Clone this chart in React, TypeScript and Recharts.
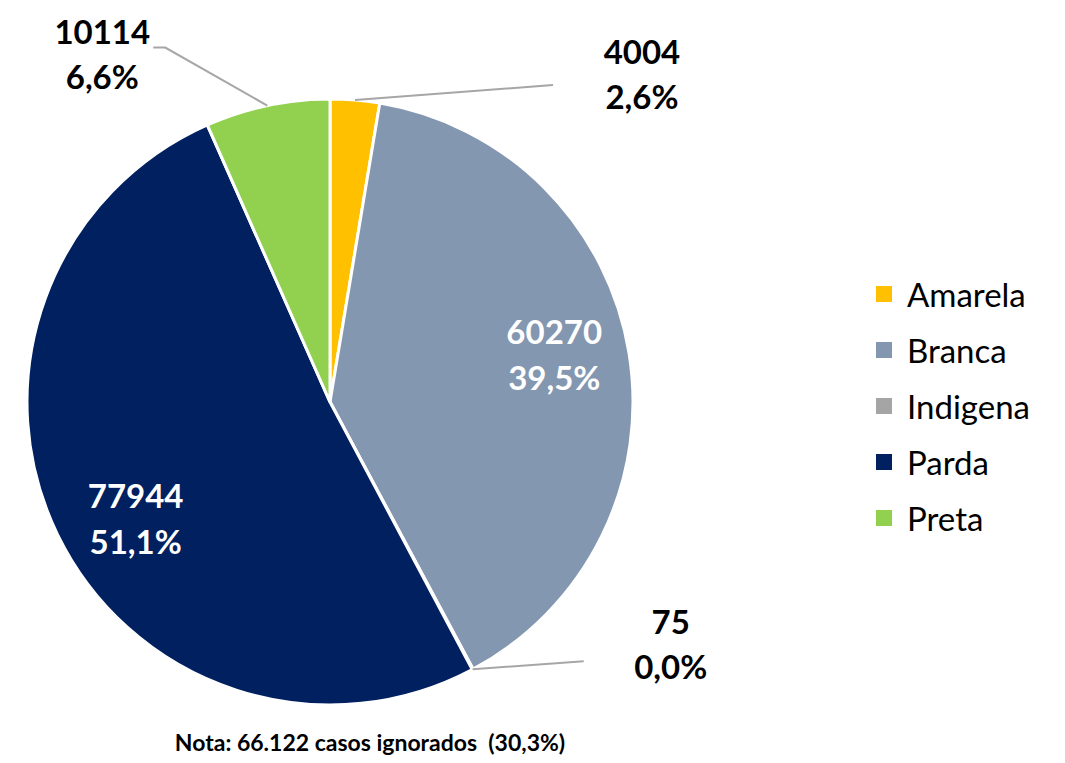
import { PieChart, Pie, Cell, Legend } from "recharts";

const categories = ["Amarela", "Branca", "Indigena", "Parda", "Preta"];
const counts = [4004, 60270, 75, 77944, 10114];
const colors = ["#FFC000", "#8497B0", "#A5A5A5", "#002060", "#92D050"];

const data = categories.map((name, i) => ({ name, value: counts[i] }));

const RAD = Math.PI / 180;
const FONT = "Lato, 'Open Sans', sans-serif";
const LEAD = "#A6A6A6";

// placement of each label relative to the point where the slice meets the rim
// inside: radial fraction; outside: leader line bends + text centre
const LABEL_CFG: Record<string, any> = {
  Amarela: { line: [[198, -15]], text: [287, -25] },
  Branca: { inside: 0.75, shift: [0, -10] },
  Indigena: { line: [[111, -8]], text: [198, -24] },
  Parda: { inside: 0.75, shift: [10, 18] },
  Preta: { line: [[-102, -58], [-114, -58]], text: [-165, -51] },
};

const fmtPct = (p: number) => (p * 100).toFixed(1).replace(".", ",") + "%";

function renderLabel(props: any) {
  const { cx, cy, midAngle, outerRadius, percent, value, name } = props;
  const cfg = LABEL_CFG[name];
  const cos = Math.cos(-midAngle * RAD);
  const sin = Math.sin(-midAngle * RAD);
  const style = { fontFamily: FONT, fontWeight: 700, fontSize: 33 };
  if (cfg.inside) {
    const x = cx + outerRadius * cfg.inside * cos + cfg.shift[0];
    const y = cy + outerRadius * cfg.inside * sin + cfg.shift[1];
    return (
      <text x={x} y={y} textAnchor="middle" fill="#fff" style={style}>
        <tspan x={x} dy={-11}>{value}</tspan>
        <tspan x={x} dy={46}>{fmtPct(percent)}</tspan>
      </text>
    );
  }
  const ex = cx + outerRadius * cos;
  const ey = cy + outerRadius * sin;
  const pts = [[ex, ey], ...cfg.line.map((p: number[]) => [ex + p[0], ey + p[1]])];
  const tx = ex + cfg.text[0];
  const ty = ey + cfg.text[1];
  return (
    <g>
      <polyline
        points={pts.map((p) => p.join(",")).join(" ")}
        fill="none"
        stroke={LEAD}
        strokeWidth={2}
      />
      <text x={tx} y={ty} textAnchor="middle" fill="#000" style={style}>
        <tspan x={tx} dy={-11}>{value}</tspan>
        <tspan x={tx} dy={45}>{fmtPct(percent)}</tspan>
      </text>
    </g>
  );
}

function LegendContent({ payload }: any) {
  return (
    <ul style={{ listStyle: "none", margin: 0, padding: 0 }}>
      {(payload || []).map((p: any) => (
        <li
          key={p.value}
          style={{
            display: "flex",
            alignItems: "center",
            height: 56,
            fontFamily: FONT,
            fontSize: 33,
            color: "#000",
          }}
        >
          <span
            style={{
              display: "inline-block",
              width: 16,
              height: 16,
              background: p.color,
              marginRight: 15,
            }}
          />
          {p.value}
        </li>
      ))}
    </ul>
  );
}

export default function App() {
  return (
    <div style={{ position: "relative", width: 1057, height: 755 }}>
      <PieChart width={1057} height={755} margin={{ top: 0, right: 0, bottom: 0, left: 0 }}>
        <Pie
          data={data}
          dataKey="value"
          nameKey="name"
          cx={322}
          cy={394}
          outerRadius={303}
          startAngle={90}
          endAngle={-270}
          stroke="#fff"
          strokeWidth={3}
          label={renderLabel}
          labelLine={false}
          isAnimationActive={false}
        >
          {data.map((d, i) => (
            <Cell key={d.name} fill={colors[i]} />
          ))}
        </Pie>
        <Legend
          layout="vertical"
          align="right"
          verticalAlign="middle"
          content={<LegendContent />}
          wrapperStyle={{ position: "absolute", left: 868, top: 258, width: 200 }}
        />
      </PieChart>
      <div
        style={{
          position: "absolute",
          left: 112,
          top: 720,
          width: 500,
          textAlign: "center",
          fontFamily: FONT,
          fontWeight: 700,
          fontSize: 23,
          color: "#000",
          whiteSpace: "pre",
        }}
      >
        {"Nota: 66.122 casos ignorados  (30,3%)"}
      </div>
    </div>
  );
}
